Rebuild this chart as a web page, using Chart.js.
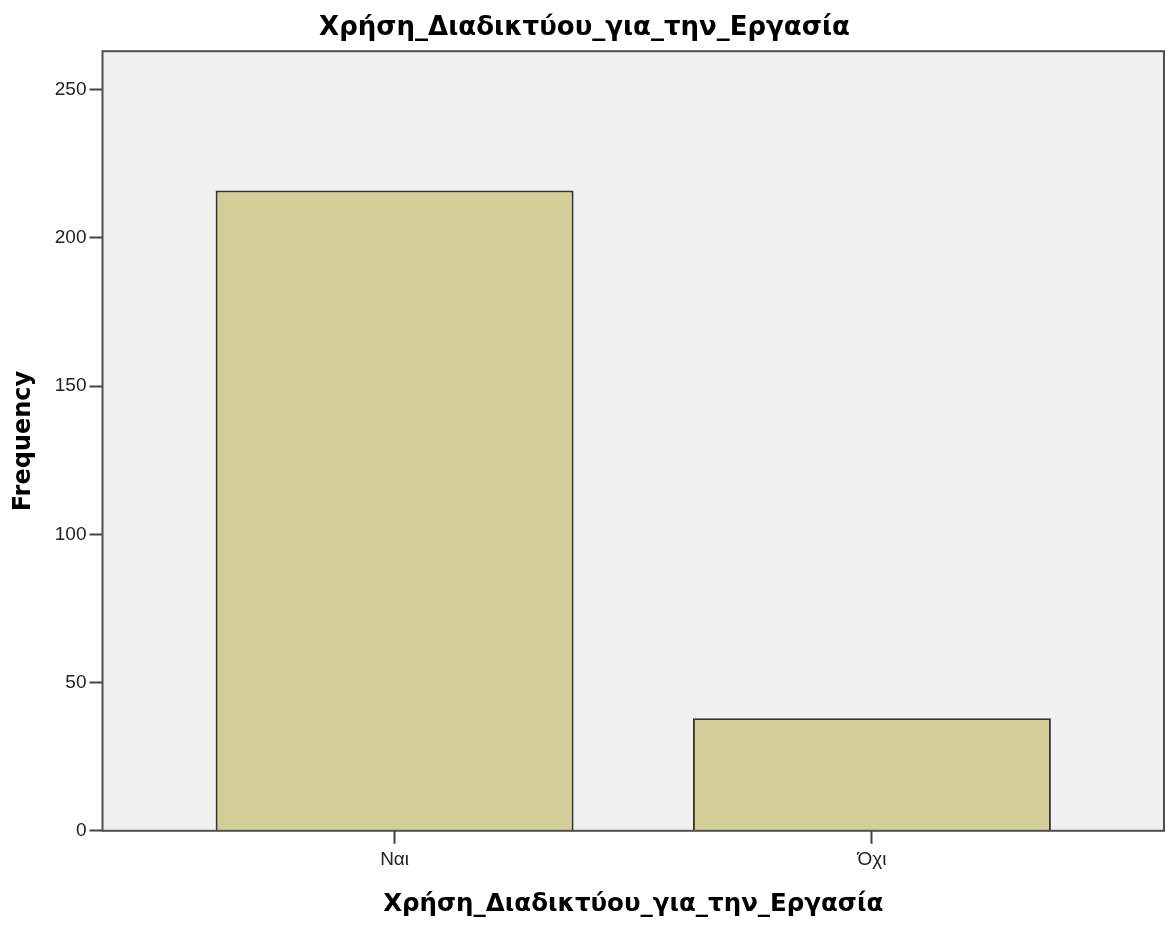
<!DOCTYPE html>
<html>
<head>
<meta charset="utf-8">
<script src="https://cdn.jsdelivr.net/npm/chart.js@4"></script>
<style>
  body { margin: 0; background: #fff; }
  #wrap { width: 1167px; height: 925px; }
</style>
</head>
<body>
<div id="wrap"><canvas id="myChart"></canvas></div>
<script>
const categories = ["Ναι", "Όχι"];
const frequencies = [216, 38];
const yTicks = [0, 50, 100, 150, 200, 250];
const chartTitle = "Χρήση_Διαδικτύου_για_την_Εργασία";

// plot background + frame like SPSS
const plotFrame = {
  id: "plotFrame",
  beforeDraw(chart) {
    const { ctx, chartArea: a } = chart;
    ctx.save();
    ctx.fillStyle = "#f0f0f0";
    ctx.fillRect(a.left, a.top, a.right - a.left, a.bottom - a.top);
    ctx.restore();
  },
  afterDatasetsDraw(chart) {
    const { ctx, chartArea: a } = chart;
    ctx.save();
    ctx.strokeStyle = "#4f4f4f";
    ctx.lineWidth = 2;
    ctx.strokeRect(a.left, a.top, a.right - a.left, a.bottom - a.top);
    ctx.restore();
  },
};

const ctx = document.getElementById("myChart");

new Chart(ctx, {
  type: "bar",
  data: {
    datasets: [
      {
        data: frequencies.map((v, i) => ({ x: i + 1, y: v })),
        backgroundColor: "#d3ce97",
        borderColor: "#333",
        borderWidth: 2,
        barPercentage: 0.75,
        categoryPercentage: 1,
      },
    ],
  },
  options: {
    responsive: true,
    maintainAspectRatio: false,
    animation: false,
    layout: { padding: { top: 0, right: 3, bottom: 2, left: 5 } },
    plugins: {
      legend: { display: false },
      tooltip: { enabled: false },
      title: {
        display: true,
        text: chartTitle,
        color: "#000",
        font: { family: "DejaVu Sans", size: 26, weight: "bold" },
        padding: { top: 13, bottom: 7 },
      },
    },
    scales: {
      x: {
        type: "linear",
        offset: false,
        min: 0.388,
        max: 2.612,
        afterBuildTicks: (axis) => {
          axis.ticks = categories.map((c, i) => ({ value: i + 1 }));
        },
        ticks: {
          callback: (v) => categories[v - 1],
          color: "#222",
          font: { family: "Liberation Sans", size: 19 },
          padding: 5,
        },
        grid: {
          offset: false,
          drawOnChartArea: false,
          drawTicks: true,
          tickLength: 13,
          tickWidth: 2,
          tickColor: "#444",
        },
        border: { display: false },
        title: {
          display: true,
          text: chartTitle,
          color: "#000",
          font: { family: "DejaVu Sans", size: 24.5, weight: "bold" },
          padding: { top: 13 },
        },
      },
      y: {
        min: 0,
        max: 263,
        afterBuildTicks: (axis) => {
          axis.ticks = yTicks.map((v) => ({ value: v }));
        },
        ticks: {
          color: "#222",
          font: { family: "Liberation Sans", size: 19 },
          padding: 3,
        },
        grid: {
          drawOnChartArea: false,
          drawTicks: true,
          tickLength: 13,
          tickWidth: 2,
          tickColor: "#444",
        },
        border: { display: false },
        title: {
          display: true,
          text: "Frequency",
          color: "#000",
          font: { family: "DejaVu Sans", size: 24, weight: "bold" },
          padding: { bottom: 14 },
        },
      },
    },
  },
  plugins: [plotFrame],
});
</script>
</body>
</html>
